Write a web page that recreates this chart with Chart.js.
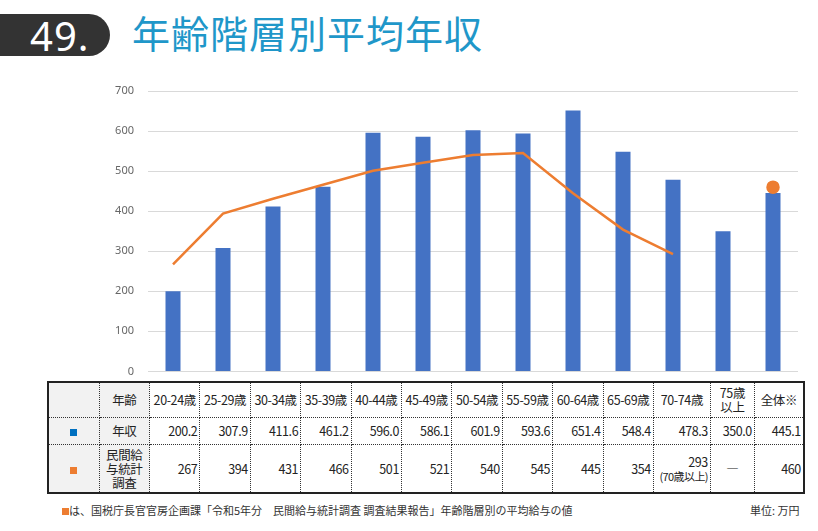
<!DOCTYPE html>
<html lang="ja">
<head>
<meta charset="utf-8">
<script src="https://cdn.jsdelivr.net/npm/chart.js@4.4.1/dist/chart.umd.min.js"></script>
<style>
  html, body { margin: 0; padding: 0; background: #fff; }
  body { width: 818px; height: 531px; position: relative; overflow: hidden;
         font-family: "Noto Sans CJK JP", "Noto Sans", sans-serif; }
  .badge { position: absolute; left: 0; top: 14px; width: 110px; height: 42px;
           background: #333; border-radius: 0 21px 21px 0; }
  .badge span { position: absolute; left: 30px; top: -6px; color: #fff;
                font: 40px "Noto Sans", sans-serif; letter-spacing: 1px; }
  .title { position: absolute; left: 132px; top: 4px; color: #1f97c9;
           font-size: 38px; letter-spacing: 1px; white-space: nowrap; }
  #myChart { position: absolute; left: 90px; top: 80px; width: 710px; height: 298px; }
  table { position: absolute; left: 47px; top: 381px; border-collapse: collapse;
          border: 2px solid #222; font-size: 12.5px; color: #222; table-layout: fixed; }
  td { border: 1px dotted #333; padding: 0 2px; height: 26px; text-align: right;
       letter-spacing: -0.4px; white-space: nowrap; line-height: 14px; overflow: visible; }
  td.lab { background: #f2f2f2; text-align: center; }
  tr.head td { height: 34px; text-align: center; }
  tr.r3 td { height: 47px; }
  small { font-size: 11px; letter-spacing: -0.6px; }
  .sq { display: inline-block; width: 7px; height: 7px; }
  .note { position: absolute; left: 62px; top: 502px; font-size: 11px; color: #333; }
  .unit { position: absolute; left: 750px; top: 502px; font-size: 11px; color: #333; }
</style>
</head>
<body>
<div class="badge"><span>49.</span></div>
<div class="title">年齢階層別平均年収</div>
<canvas id="myChart" width="710" height="298"></canvas>
<table id="tbl"></table>
<div class="note"><span class="sq" style="background:#ed7d31"></span>は、国税庁長官官房企画課「令和5年分　民間給与統計調査 調査結果報告」年齢階層別の平均給与の値</div>
<div class="unit">単位: 万円</div>

<script>
const ageGroups = ["20-24歳", "25-29歳", "30-34歳", "35-39歳", "40-44歳", "45-49歳",
  "50-54歳", "55-59歳", "60-64歳", "65-69歳", "70-74歳", "75歳\n以上", "全体※"];
const annualIncome = [200.2, 307.9, 411.6, 461.2, 596.0, 586.1, 601.9, 593.6, 651.4, 548.4, 478.3, 350.0, 445.1];
const surveyPay = [267, 394, 431, 466, 501, 521, 540, 545, 445, 354, 293, null, 460];
const surveyNotes = ["", "", "", "", "", "", "", "", "", "", "(70歳以上)", "", ""];
const yTicks = [0, 100, 200, 300, 400, 500, 600, 700];

const barColor = "#4472c4";
const lineColor = "#ed7d31";

// dot only on the isolated "全体" value
const pointSizes = surveyPay.map((v, i) =>
  v !== null && surveyPay[i - 1] == null && surveyPay[i + 1] == null ? 5.5 : 0);

new Chart(document.getElementById("myChart"), {
  data: {
    labels: ageGroups,
    datasets: [
      {
        type: "line",
        data: surveyPay,
        borderColor: lineColor,
        backgroundColor: lineColor,
        borderWidth: 2.5,
        pointRadius: pointSizes,
        pointHoverRadius: pointSizes,
        tension: 0,
        spanGaps: false,
        order: 0,
      },
      {
        type: "bar",
        data: annualIncome,
        backgroundColor: barColor,
        barPercentage: 0.3,
        categoryPercentage: 1,
        order: 1,
      },
    ],
  },
  options: {
    responsive: false,
    animation: false,
    layout: { autoPadding: false, padding: { top: 11, right: 2, bottom: 3, left: 0 } },
    plugins: { legend: { display: false }, tooltip: { enabled: false } },
    scales: {
      x: { display: false },
      y: {
        min: 0,
        max: 700,
        afterFit: (s) => { s.width = 58; },
        afterBuildTicks: (s) => { s.ticks = yTicks.map((v) => ({ value: v })); },
        border: { display: false },
        // invisible tick marks push the labels left without adding top/bottom padding
        grid: { color: "#d9d9d9", lineWidth: 1, drawTicks: true, tickLength: 14, tickColor: "rgba(0,0,0,0)" },
        ticks: { color: "#666", padding: 0, font: { size: 11, family: "'Noto Sans', sans-serif" } },
      },
    },
  },
});

// table below the chart
const colWidths = [45.5, 45.5, 45.4, 45.4, 45.4, 45.4, 45.4, 45.4, 45.4, 45.4, 45.4, 45.4, 52, 39, 44];
const tbl = document.getElementById("tbl");
const head = tbl.insertRow(); head.className = "head";
const r2 = tbl.insertRow();
const r3 = tbl.insertRow(); r3.className = "r3";

let c = head.insertCell(); c.className = "lab"; c.style.width = colWidths[0] + "px";
c = head.insertCell(); c.className = "lab"; c.textContent = "年齢"; c.style.width = colWidths[1] + "px";
ageGroups.forEach((g, i) => {
  const cell = head.insertCell();
  cell.innerHTML = g.replace("\n", "<br>");
  cell.style.width = colWidths[i + 2] + "px";
});

c = r2.insertCell(); c.className = "lab"; c.innerHTML = '<span class="sq" style="background:#0070c0"></span>';
c = r2.insertCell(); c.className = "lab"; c.textContent = "年収";
annualIncome.forEach((v) => { r2.insertCell().textContent = v.toFixed(1); });

c = r3.insertCell(); c.className = "lab"; c.innerHTML = '<span class="sq" style="background:#ed7d31"></span>';
c = r3.insertCell(); c.className = "lab"; c.innerHTML = "民間給<br>与統計<br>調査";
surveyPay.forEach((v, i) => {
  const cell = r3.insertCell();
  if (v === null) { cell.textContent = "―"; cell.style.textAlign = "center"; }
  else cell.innerHTML = v + (surveyNotes[i] ? "<br><small>" + surveyNotes[i] + "</small>" : "");
});
</script>
</body>
</html>
